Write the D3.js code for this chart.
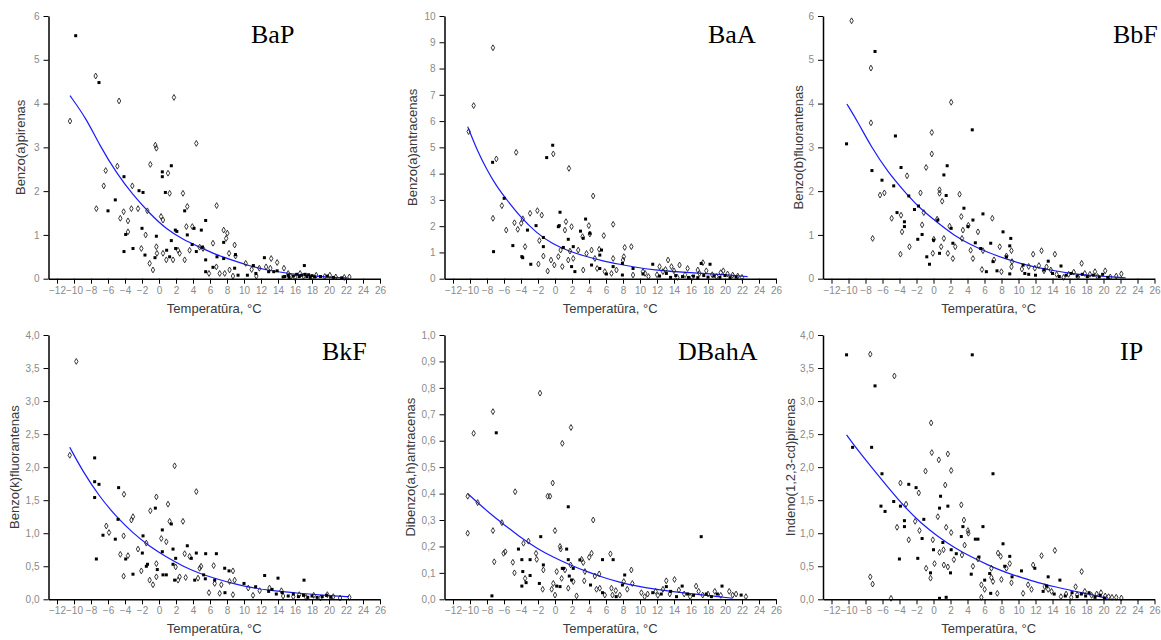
<!DOCTYPE html>
<html><head><meta charset="utf-8">
<script src="https://cdn.jsdelivr.net/npm/d3@7"></script>
<style>
html,body{margin:0;padding:0;background:#fff;}
svg{display:block;}
</style></head>
<body>
<svg id="chart" width="1161" height="640"></svg>
<script>
// ---------- DATA ----------
const xMajorTicks = d3.range(-12, 27, 2);
const xMinorTicks = d3.range(-13, 27, 1);
const xTitle = "Temperatūra, °C";

const titles = ["BaP", "BaA", "BbF", "BkF", "DBahA", "IP"];
const yTitles = ["Benzo(a)pirenas", "Benzo(a)antracenas", "Benzo(b)fluorantenas",
  "Benzo(k)fluorantenas", "Dibenzo(a,h)antracenas", "Indeno(1,2,3-cd)pirenas"];

const yTicksBaP = [0,1,2,3,4,5,6];
const yTicksBaA = [0,1,2,3,4,5,6,7,8,9,10];
const yTicksBbF = [0,1,2,3,4,5,6];
const yTicksBkF = [0,0.5,1,1.5,2,2.5,3,3.5,4];
const yTicksDBahA = [0,0.1,0.2,0.3,0.4,0.5,0.6,0.7,0.8,0.9,1.0];
const yTicksIP = [0,0.5,1,1.5,2,2.5,3,3.5,4];

// BaP
const bapFilled = [[-9.8,5.55],[-7.06,4.48],[-6.0,1.55],[-5.14,1.80],[-4.12,2.33],[-4.12,0.62],[-3.92,1.01],[-3.06,0.69],[-2.35,2.01],[-1.88,1.97],[-2.0,1.15],[-1.65,0.54],[-0.31,0.97],[-0.47,0.48],[0.39,2.44],[0.39,2.33],[0.75,1.97],[1.45,2.58],[1.92,1.11],[1.45,0.87],[1.96,0.69],[1.25,0.50],[3.02,1.55],[3.33,1.0],[4.12,1.15],[4.39,0.62],[4.98,1.11],[5.49,1.33],[5.49,0.43],[5.49,0.16],[6.35,0.26],[6.82,0.50],[7.61,0.83],[7.61,0.46],[8.9,0.24],[9.3,0.08],[10.4,0.08],[11.4,0.12],[12.4,0.48],[12.9,0.16],[13.5,0.16],[14.8,0.05],[15.2,0.08],[17.1,0.30],[0.9,0.65],[2.1,1.08],[3.9,0.78],[5.1,0.72],[9.0,0.55],[11.1,0.3],[13.9,0.18],[14.6,0.04],[15.3,0.03],[15.8,0.06],[16.2,0.1],[16.5,0.05],[16.8,0.08],[17.2,0.1],[17.4,0.05],[17.6,0.09],[17.8,0.03],[18.0,0.07],[18.3,0.04],[19.0,0.05],[19.8,0.06],[20.5,0.03],[21.5,0.02]];
const bapOpen = [[-10.47,3.60],[-7.45,4.63],[-7.37,1.60],[-6.27,2.47],[-6.5,2.12],[-4.7,4.06],[-4.9,2.57],[-4.16,1.53],[-4.55,1.38],[-3.65,1.32],[-3.65,1.07],[-3.25,1.60],[-3.14,2.12],[-2.47,1.60],[-1.57,1.0],[-1.37,1.55],[-2.08,0.69],[-1.02,2.61],[-1.1,0.35],[-0.71,0.20],[-0.43,3.05],[-0.31,2.98],[-0.31,0.73],[-0.24,0.58],[0.24,1.42],[0.47,1.34],[0.47,0.58],[0.86,0.43],[1.06,2.41],[1.25,1.95],[1.76,4.14],[1.65,0.43],[2.24,0.65],[2.43,0.58],[2.82,1.95],[3.02,0.43],[3.22,1.19],[3.33,1.65],[3.6,0.65],[3.92,1.19],[4.39,3.09],[4.78,0.72],[5.18,0.69],[6.78,1.67],[6.35,0.81],[5.88,0.12],[6.75,0.27],[7.14,0.12],[7.73,0.12],[7.61,1.11],[8.04,1.04],[7.9,0.92],[8.24,0.58],[8.9,0.77],[8.3,0.2],[8.7,0.06],[9.0,0.52],[10.2,0.35],[10.9,0.21],[11.45,0.06],[11.8,0.24],[12.6,0.27],[13.2,0.46],[13.9,0.37],[13.1,0.24],[14.7,0.24],[15.2,0.12],[15.5,0.05],[16.0,0.03],[16.6,0.12],[17.0,0.06],[18.5,0.08],[19.5,0.05],[20.1,0.08],[20.8,0.04],[21.8,0.03],[22.4,0.04]];
const bapFit = [[-10.47,4.18],[-8.55,3.66],[-7.0,3.05],[-5.0,2.41],[-3.06,1.91],[-1.1,1.49],[0.86,1.13],[2.8,0.9],[4.8,0.72],[6.7,0.55],[8.7,0.42],[10.7,0.29],[12.6,0.2],[14.6,0.14],[16.5,0.09],[18.5,0.06],[20.5,0.03],[22.2,0.015]];

// BaA
const baaFilled = [[-7.34,4.43],[-7.23,1.03],[-5.98,3.06],[-4.96,1.26],[-3.9,0.84],[-3.8,0.80],[-3.24,1.85],[-2.85,0.55],[-2.23,2.02],[-1.37,1.57],[-1.37,1.22],[-0.98,4.61],[-0.27,5.08],[0.59,2.53],[0.39,1.98],[0.5,2.02],[0.98,1.19],[1.56,1.50],[2.15,1.22],[1.95,0.46],[2.34,0.27],[3.0,1.81],[3.32,1.54],[3.6,2.27],[4.1,1.73],[4.3,0.52],[5.27,0.9],[5.47,1.09],[5.27,0.39],[6.05,0.18],[6.84,0.46],[7.93,0.58],[7.93,0.14],[9.18,0.39],[10.35,0.18],[11.5,0.55],[17.2,0.58],[18.24,0.55],[12.3,0.1],[13.1,0.2],[13.6,0.05],[14.2,0.12],[15.0,0.08],[15.7,0.05],[16.3,0.1],[16.8,0.04],[17.5,0.12],[18.0,0.06],[18.7,0.1],[19.4,0.05],[20.0,0.12],[20.6,0.04],[21.3,0.06]];
const baaOpen = [[-10.16,5.6],[-9.57,6.59],[-7.3,8.79],[-7.3,2.30],[-6.9,4.56],[-6.25,2.78],[-5.74,1.85],[-4.57,4.81],[-4.77,2.13],[-4.38,1.88],[-3.98,2.11],[-3.79,2.28],[-3.52,1.22],[-2.93,2.49],[-2.07,2.59],[-1.56,2.42],[-1.84,1.45],[-1.95,0.56],[-1.37,0.86],[-0.86,0.29],[-0.47,0.71],[-0.2,4.75],[-0.08,0.52],[0.39,0.84],[0.66,1.09],[0.86,0.46],[1.17,1.85],[1.29,2.17],[1.64,4.2],[1.95,1.98],[1.56,0.71],[1.76,1.05],[2.15,0.77],[2.73,1.09],[3.24,1.6],[3.32,0.33],[3.71,0.96],[3.98,2.02],[4.1,1.70],[4.3,1.09],[4.49,3.15],[4.69,0.77],[4.96,0.39],[5.2,1.12],[5.74,1.64],[5.86,0.27],[6.84,2.07],[6.84,0.77],[6.64,0.2],[7.23,0.33],[8.0,0.71],[8.2,1.19],[8.98,1.22],[8.1,0.84],[9.18,0.14],[10.35,0.27],[10.6,0.2],[12.3,0.46],[12.7,0.27],[13.3,0.71],[13.7,0.46],[14.65,0.52],[15.6,0.39],[16.8,0.33],[17.4,0.61],[19.5,0.23],[20.9,0.14],[11.0,0.08],[12.0,0.15],[13.0,0.35],[14.0,0.3],[14.4,0.05],[15.3,0.15],[16.1,0.03],[17.0,0.2],[17.8,0.3],[18.5,0.15],[19.0,0.08],[19.8,0.3],[20.3,0.18],[21.5,0.1],[22.0,0.05]];
const baaFit = [[-10.27,5.79],[-9.18,4.9],[-8.0,4.14],[-6.84,3.5],[-5.66,3.0],[-4.1,2.36],[-2.15,1.73],[-0.2,1.3],[1.76,1.03],[3.71,0.84],[5.66,0.67],[7.6,0.55],[9.57,0.43],[11.5,0.34],[15.4,0.23],[19.3,0.165],[22.66,0.08]];

// BbF
const bbfFilled = [[-10.23,3.08],[-6.88,5.19],[-7.24,2.47],[-6.06,2.25],[-4.68,2.12],[-4.48,3.26],[-4.29,1.51],[-3.82,2.54],[-3.42,1.30],[-3.42,1.19],[-2.91,1.89],[-2.24,1.58],[-1.77,1.66],[-1.85,0.90],[-1.34,1.01],[-0.79,0.50],[-0.47,0.33],[0.0,0.88],[0.51,1.34],[0.71,0.58],[1.22,2.37],[1.49,1.9],[1.61,2.58],[2.08,1.15],[2.28,0.81],[3.58,1.61],[4.05,1.19],[4.56,3.40],[4.64,1.34],[4.92,0.82],[5.55,0.69],[5.82,1.48],[6.22,0.16],[6.73,0.81],[7.0,0.39],[7.47,0.18],[8.18,1.07],[8.58,0.50],[9.09,0.92],[8.97,0.11],[8.97,0.75],[10.54,0.31],[10.74,0.12],[13.5,0.40],[15.0,0.29],[11.2,0.1],[12.0,0.08],[13.0,0.2],[14.0,0.12],[14.8,0.05],[15.6,0.08],[16.2,0.12],[16.9,0.06],[17.5,0.1],[18.1,0.05],[18.8,0.08],[19.5,0.04],[19.9,0.1],[20.5,0.03]];
const bbfOpen = [[-9.64,5.89],[-7.36,4.81],[-7.36,3.56],[-7.16,0.92],[-6.29,1.91],[-5.78,1.96],[-4.92,1.38],[-3.89,0.56],[-3.7,1.07],[-3.82,1.45],[-3.11,2.35],[-2.83,0.73],[-1.53,1.96],[-1.34,1.23],[-1.14,1.51],[-0.87,2.54],[-0.2,3.34],[-0.2,2.85],[0.04,0.9],[-0.08,0.58],[0.43,1.36],[0.71,2.03],[0.71,1.95],[0.9,0.73],[1.02,1.77],[1.22,0.92],[1.69,0.58],[2.08,4.03],[1.89,1.2],[2.28,0.46],[2.56,0.73],[3.07,1.93],[3.27,1.42],[3.46,1.11],[3.35,0.92],[4.1,1.22],[4.37,0.65],[4.64,0.46],[5.23,1.07],[5.82,0.64],[5.7,0.21],[6.92,1.38],[7.12,0.43],[7.79,0.73],[7.99,0.16],[8.58,0.52],[9.17,0.64],[9.24,0.39],[9.17,0.27],[11.72,0.56],[11.92,0.24],[12.71,0.64],[13.3,0.27],[14.28,0.56],[14.48,0.1],[17.43,0.35],[19.0,0.16],[20.2,0.18],[22.1,0.11],[10.4,0.22],[11.2,0.28],[12.4,0.3],[13.0,0.18],[13.8,0.2],[15.3,0.03],[15.9,0.1],[16.5,0.15],[17.0,0.04],[17.8,0.12],[18.4,0.1],[19.3,0.05],[20.8,0.04],[21.5,0.06]];
const bbfFit = [[-10.19,3.99],[-8.93,3.59],[-7.36,3.02],[-5.39,2.44],[-3.42,1.99],[-1.46,1.58],[0.51,1.28],[2.48,0.98],[4.45,0.77],[6.41,0.60],[8.38,0.46],[10.35,0.34],[12.3,0.25],[14.28,0.18],[16.25,0.12],[18.2,0.08],[20.2,0.05],[22.6,0.02]];

// BkF
const bkfFilled = [[-7.57,2.14],[-7.57,1.78],[-7.06,1.74],[-7.57,1.54],[-7.37,0.61],[-6.59,0.97],[-5.14,0.91],[-4.75,1.69],[-4.82,1.21],[-3.92,0.61],[-3.06,0.38],[-1.88,0.96],[-1.96,0.70],[-1.49,0.50],[-1.35,0.53],[-0.43,1.38],[-0.2,0.45],[0.39,1.05],[0.39,0.72],[0.47,0.37],[0.86,0.37],[1.45,1.14],[1.65,0.76],[1.65,0.53],[1.96,0.62],[1.84,0.29],[3.33,0.81],[3.8,0.62],[4.39,0.70],[4.2,0.29],[5.25,0.37],[5.49,0.69],[5.45,0.31],[6.75,0.69],[6.55,0.29],[7.73,0.47],[7.76,0.1],[8.24,0.43],[10.0,0.24],[11.37,0.19],[12.43,0.36],[12.9,0.12],[14.0,0.32],[17.06,0.29],[19.7,0.06],[13.3,0.15],[13.8,0.08],[14.5,0.1],[15.2,0.05],[15.8,0.08],[16.4,0.04],[17.0,0.06],[17.5,0.03],[18.0,0.05],[18.6,0.03],[19.2,0.04],[20.2,0.03]];
const bkfOpen = [[-10.5,2.18],[-9.73,3.60],[-6.2,1.11],[-5.88,1.01],[-4.12,1.59],[-4.16,0.96],[-4.55,0.68],[-4.16,0.35],[-3.65,0.66],[-3.25,1.20],[-3.06,1.25],[-2.47,0.76],[-2.08,0.43],[-1.49,0.85],[-1.02,1.34],[-1.1,0.29],[-0.71,0.22],[-0.31,1.55],[-0.31,0.34],[-0.31,0.54],[0.27,0.92],[0.86,0.87],[1.06,1.44],[1.25,1.18],[1.84,2.02],[1.96,0.49],[2.24,0.29],[2.43,0.34],[2.82,1.18],[3.02,0.69],[3.14,0.33],[3.6,0.65],[4.39,1.63],[4.59,0.32],[4.78,0.47],[4.95,0.5],[5.88,0.1],[6.43,0.51],[6.55,0.24],[7.14,0.09],[7.33,0.22],[8.3,0.27],[8.7,0.43],[8.7,0.07],[8.9,0.29],[10.5,0.17],[11.06,0.06],[11.84,0.13],[13.0,0.17],[14.4,0.13],[14.6,0.05],[15.8,0.04],[16.5,0.07],[17.3,0.03],[18.2,0.06],[19.0,0.02],[19.8,0.07],[20.5,0.04],[21.3,0.02],[22.4,0.03]];
const bkfFit = [[-10.5,2.30],[-8.94,1.93],[-6.98,1.55],[-5.02,1.25],[-3.06,1.0],[-1.1,0.8],[0.86,0.64],[2.82,0.5],[4.78,0.39],[6.75,0.31],[8.7,0.24],[10.67,0.18],[12.63,0.14],[16.5,0.09],[20.5,0.05],[22.35,0.04]];

// DBahA
const dbahaFilled = [[-7.42,0.013],[-6.91,0.63],[-4.3,0.19],[-3.9,0.05],[-3.9,0.15],[-3.79,0.105],[-3.4,0.063],[-2.93,0.09],[-2.93,0.15],[-1.68,0.237],[-1.84,0.06],[-1.37,0.13],[0.2,0.05],[0.59,0.048],[0.86,0.117],[1.0,0.117],[1.37,0.19],[1.56,0.35],[1.56,0.15],[1.68,0.088],[1.95,0.073],[2.15,0.117],[2.93,0.149],[4.18,0.054],[5.59,0.15],[5.59,0.025],[6.84,0.15],[7.2,0.01],[7.93,0.054],[8.2,0.092],[11.5,0.025],[13.1,0.048],[14.96,0.05],[17.2,0.237],[19.65,0.05],[21.9,0.016],[12.5,0.02],[13.6,0.03],[14.3,0.01],[15.6,0.02],[16.3,0.015],[17.8,0.02],[18.4,0.01],[19.1,0.02]];
const dbahaOpen = [[-10.27,0.39],[-9.57,0.628],[-10.27,0.25],[-9.1,0.366],[-7.3,0.71],[-7.3,0.26],[-7.15,0.142],[-6.25,0.29],[-6.05,0.174],[-5.85,0.18],[-4.96,0.14],[-4.69,0.407],[-4.77,0.10],[-3.71,0.212],[-3.52,0.079],[-3.13,0.22],[-2.23,0.174],[-1.76,0.78],[-2.15,0.151],[-1.37,0.111],[-1.45,0.038],[-0.86,0.39],[-0.59,0.39],[-0.27,0.44],[0.0,0.26],[0.0,0.016],[-0.2,0.06],[-0.39,0.038],[0.2,0.105],[0.59,0.2],[0.66,0.19],[0.86,0.59],[0.78,0.079],[1.17,0.111],[1.56,0.042],[1.88,0.65],[1.84,0.13],[2.15,0.067],[2.54,0.013],[3.13,0.151],[3.32,0.139],[3.52,0.105],[3.44,0.07],[4.02,0.159],[4.3,0.174],[4.49,0.30],[4.69,0.088],[4.88,0.038],[5.2,0.096],[5.27,0.042],[5.86,0.016],[6.52,0.172],[6.64,0.042],[6.76,0.016],[7.15,0.033],[7.62,0.016],[8.09,0.067],[8.5,0.038],[8.98,0.111],[9.1,0.06],[10.16,0.025],[10.55,0.01],[11.84,0.03],[12.7,0.038],[13.09,0.07],[14.06,0.075],[14.57,0.035],[16.6,0.05],[17.38,0.016],[20.5,0.03],[20.9,0.016],[22.46,0.01],[10.9,0.02],[12.1,0.015],[13.5,0.02],[15.2,0.02],[15.9,0.01],[16.9,0.03],[18.0,0.02],[18.8,0.03],[19.5,0.015],[21.3,0.02]];
const dbahaFit = [[-10.27,0.40],[-8.8,0.357],[-7.23,0.313],[-5.66,0.275],[-4.1,0.235],[-2.15,0.193],[-0.2,0.159],[1.76,0.13],[3.71,0.105],[5.66,0.083],[7.6,0.064],[9.57,0.05],[11.5,0.039],[15.4,0.023],[19.3,0.01],[20.9,0.004]];

// IP
const ipFilled = [[-10.23,3.70],[-9.52,2.30],[-7.28,2.30],[-6.88,3.23],[-6.06,1.90],[-6.18,1.41],[-5.7,1.33],[-4.68,1.48],[-4.01,0.61],[-3.89,1.41],[-3.42,1.19],[-3.42,1.1],[-2.91,1.74],[-2.05,1.69],[-1.85,0.62],[-1.34,0.92],[-1.14,1.21],[-0.35,0.40],[0.0,0.75],[0.71,1.38],[0.83,1.56],[0.71,0.015],[1.1,0.86],[1.49,0.03],[1.69,1.41],[2.0,0.40],[2.08,0.75],[2.68,0.69],[3.27,0.95],[3.46,1.1],[4.44,0.38],[4.56,3.70],[4.92,0.91],[5.23,0.91],[5.35,0.64],[5.82,1.1],[6.02,0.29],[6.61,0.39],[6.73,0.09],[7.0,1.90],[8.18,0.84],[8.38,0.50],[8.97,0.65],[9.24,0.34],[10.35,0.43],[11.92,0.47],[13.49,0.34],[14.87,0.29],[12.9,0.12],[13.3,0.2],[14.2,0.08],[15.5,0.05],[16.3,0.1],[16.9,0.04],[17.4,0.08],[17.9,0.05],[18.3,0.1],[19.0,0.03],[19.6,0.06],[20.1,0.02]];
const ipOpen = [[-7.44,3.71],[-7.44,0.34],[-7.16,0.23],[-4.6,3.38],[-5.0,0.015],[-3.89,1.76],[-3.23,1.44],[-4.29,1.09],[-2.91,0.90],[-2.16,1.18],[-1.73,1.61],[-1.65,1.04],[-0.94,1.94],[-0.87,0.47],[-0.35,0.32],[-0.28,2.67],[-0.2,2.22],[-0.08,0.90],[0.12,0.54],[0.51,1.25],[0.63,2.11],[0.71,0.71],[1.18,0.75],[1.38,1.73],[1.49,1.09],[1.69,2.2],[1.22,0.52],[1.69,0.49],[2.08,1.95],[2.08,1.01],[2.4,0.60],[3.27,1.43],[3.58,1.2],[3.35,0.67],[3.66,0.82],[4.05,1.04],[4.1,1.0],[4.64,0.50],[5.23,0.61],[5.63,0.22],[5.63,0.03],[6.02,0.15],[6.81,0.33],[6.81,0.47],[7.0,0.27],[7.51,0.09],[7.59,0.70],[7.9,0.65],[7.99,0.30],[8.58,0.47],[8.97,0.54],[9.17,0.25],[10.54,0.09],[11.13,0.22],[11.53,0.15],[11.72,0.52],[12.71,0.66],[13.1,0.19],[13.49,0.15],[14.28,0.74],[13.89,0.12],[14.99,0.04],[16.72,0.19],[17.43,0.42],[16.9,0.07],[19.2,0.08],[20.2,0.05],[21.0,0.03],[22.1,0.02],[15.6,0.08],[16.2,0.03],[17.8,0.12],[18.6,0.06],[19.7,0.1],[20.6,0.04],[21.5,0.03]];
const ipFit = [[-10.23,2.49],[-8.93,2.26],[-7.36,2.01],[-5.39,1.70],[-3.42,1.40],[-1.46,1.15],[0.51,0.95],[2.48,0.78],[4.45,0.64],[6.41,0.52],[8.38,0.41],[10.35,0.33],[12.31,0.25],[14.28,0.19],[16.25,0.13],[18.2,0.08],[20.4,0.015]];

// ---------- LAYOUT (positions/styles only) ----------
const panelLayout = [
  {ax:48.5,  top:16,  bottom:278.7, titleX:251,  titleY:43,  yLabX:20,  ymax:6,  minor:0.5,  comma:false},
  {ax:444.5, top:16,  bottom:278.7, titleX:708,  titleY:43,  yLabX:412, ymax:10, minor:0.5,  comma:false},
  {ax:823,   top:16,  bottom:278.7, titleX:1113, titleY:43,  yLabX:798, ymax:6,  minor:0.5,  comma:false},
  {ax:48.5,  top:335, bottom:599.3, titleX:322,  titleY:360, yLabX:14,  ymax:4,  minor:0.25, comma:true},
  {ax:444.5, top:335, bottom:599.3, titleX:678,  titleY:360, yLabX:410, ymax:1,  minor:0.05, comma:true},
  {ax:823,   top:335, bottom:599.3, titleX:1120, titleY:360, yLabX:790, ymax:4,  minor:0.25, comma:true}
];
const series = [
  {filled:bapFilled, open:bapOpen, fit:bapFit, yTicks:yTicksBaP},
  {filled:baaFilled, open:baaOpen, fit:baaFit, yTicks:yTicksBaA},
  {filled:bbfFilled, open:bbfOpen, fit:bbfFit, yTicks:yTicksBbF},
  {filled:bkfFilled, open:bkfOpen, fit:bkfFit, yTicks:yTicksBkF},
  {filled:dbahaFilled, open:dbahaOpen, fit:dbahaFit, yTicks:yTicksDBahA},
  {filled:ipFilled, open:ipOpen, fit:ipFit, yTicks:yTicksIP}
];

const svg = d3.select("#chart");
const pxPerUnit = 8.5;
const xFmt = d => d < 0 ? "\u2212" + Math.abs(d) : String(d);

series.forEach((s, i) => {
  const L = panelLayout[i];
  const x = d3.scaleLinear().domain([-13, 26]).range([L.ax, L.ax + 39 * pxPerUnit]);
  const y = d3.scaleLinear().domain([0, L.ymax]).range([L.bottom, L.top]);
  const g = svg.append("g");

  // fit curve
  const line = d3.line().x(d => x(d[0])).y(d => y(d[1])).curve(d3.curveBasis);
  g.append("path").datum(s.fit).attr("d", line)
    .attr("fill", "none").attr("stroke", "#1a1aff").attr("stroke-width", 1.2);

  // open diamonds
  const dsym = d3.symbol().type(d3.symbolDiamond).size(10);
  g.selectAll("path.op").data(s.open).join("path").attr("class", "op")
    .attr("d", dsym).attr("transform", d => `translate(${x(d[0])},${y(d[1])})`)
    .attr("fill", "none").attr("stroke", "#222").attr("stroke-width", 0.9);

  // filled squares
  g.selectAll("rect.fl").data(s.filled).join("rect").attr("class", "fl")
    .attr("x", d => x(d[0]) - 1.5).attr("y", d => y(d[1]) - 1.5)
    .attr("width", 3).attr("height", 3).attr("fill", "#000");

  // axes
  const yFmt = L.comma ? (d => d3.format(".1f")(d).replace(".", ",")) : (d => String(d));
  const yMinor = d3.range(0, L.ymax + 1e-9, L.minor);
  const gy = g.append("g").attr("transform", `translate(${L.ax},0)`);
  gy.call(d3.axisLeft(y).tickValues(yMinor).tickSize(3).tickSizeOuter(0).tickFormat(""));
  gy.call(d3.axisLeft(y).tickValues(s.yTicks).tickSize(5).tickSizeOuter(0).tickPadding(4).tickFormat(yFmt));
  const gx = g.append("g").attr("transform", `translate(0,${L.bottom})`);
  gx.call(d3.axisBottom(x).tickValues(xMinorTicks).tickSize(3).tickSizeOuter(0).tickFormat(""));
  gx.call(d3.axisBottom(x).tickValues(xMajorTicks).tickSize(5).tickSizeOuter(0).tickPadding(3).tickFormat(xFmt));
  [gx, gy].forEach(a => {
    a.selectAll(".domain").attr("stroke", "#000").attr("stroke-width", 1.5);
    a.selectAll(".tick line").attr("stroke", "#000").attr("stroke-width", 1);
    a.selectAll("text").attr("fill", "#8a8a8a").attr("font-size", 10)
      .attr("font-family", "Liberation Sans, Arial, sans-serif");
  });

  // axis titles
  g.append("text").attr("x", (L.ax + L.ax + 39 * pxPerUnit) / 2).attr("y", L.bottom + 34)
    .attr("text-anchor", "middle").attr("font-size", 13).attr("fill", "#3a3a3a")
    .attr("font-family", "Liberation Sans, Arial, sans-serif").text(xTitle);
  g.append("text").attr("transform", `translate(${L.yLabX},${(L.top + L.bottom) / 2}) rotate(-90)`)
    .attr("text-anchor", "middle").attr("dy", "0.35em").attr("font-size", 13).attr("fill", "#3a3a3a")
    .attr("font-family", "Liberation Sans, Arial, sans-serif").text(yTitles[i]);

  // panel title
  g.append("text").attr("x", L.titleX).attr("y", L.titleY)
    .attr("font-size", 26).attr("fill", "#000")
    .attr("font-family", "Liberation Serif, Times New Roman, serif").text(titles[i]);
});
</script>
</body></html>
